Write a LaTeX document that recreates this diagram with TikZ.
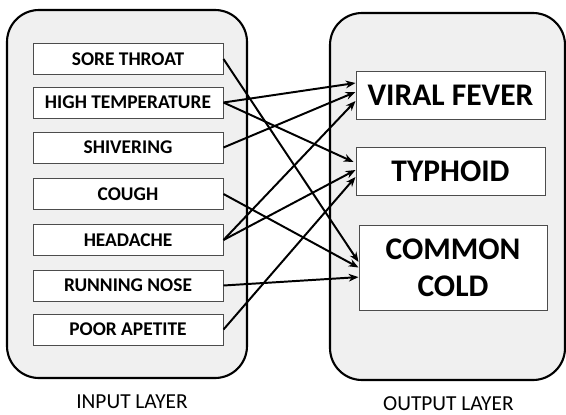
\documentclass[tikz,border=0pt]{standalone}
\usepackage{fontspec}
\setmainfont{Carlito}
\usetikzlibrary{arrows.meta}
\tikzset{
	panel/.style={draw=black, line width=1.5pt, fill=black!6, rounded corners=0.8cm},
	inbox/.style={draw=black!70, line width=0.7pt, fill=white, minimum width=4.75cm, minimum height=0.775cm, inner sep=0pt, font=\fontsize{13.8}{16}\selectfont\bfseries},
	outbox/.style={draw=black!70, line width=0.7pt, fill=white, minimum width=4.725cm, minimum height=1.2cm, inner sep=0pt, align=center, font=\fontsize{22.4}{26.2}\selectfont\bfseries},
	layer/.style={anchor=base, inner sep=0pt, font=\fontsize{15.2}{18}\selectfont},
	link/.style={line width=1.4pt, -{Stealth[length=7pt, width=5.5pt]}}
}

\begin{document}
\begin{tikzpicture}
		%%%%% START %%%%%
		\useasboundingbox (0, 0) rectangle (14.15, 10.35);
		
		\draw[panel] (0.175, 0.9) rectangle (6.175, 10.1);
		\draw[panel] (8.25, 0.85) rectangle (14.125, 10.025);
		
		\node[inbox] (sore) at (3.2, 8.875) {SORE THROAT};
		\node[inbox] (temp) at (3.2, 7.7875) {HIGH TEMPERATURE};
		\node[inbox] (shiver) at (3.2, 6.6625) {SHIVERING};
		\node[inbox] (cough) at (3.2, 5.5) {COUGH};
		\node[inbox] (head) at (3.2, 4.35) {HEADACHE};
		\node[inbox] (nose) at (3.2, 3.2125) {RUNNING NOSE};
		\node[inbox] (appetite) at (3.2, 2.1125) {POOR APETITE};
		
		\node[outbox] (fever) at (11.2625, 7.975) {VIRAL FEVER};
		\node[outbox] (typhoid) at (11.2625, 6.075) {TYPHOID};
		\node[outbox, minimum width=4.7cm, minimum height=2.125cm] (cold) at (11.325, 3.6625) {COMMON\\COLD};
		
		\node[layer] (inlabel) at (3.3, 0.13) {INPUT LAYER};
		\node[layer] (outlabel) at (11.21, 0.09) {OUTPUT LAYER};
		
		% into viral fever
		\draw[link] (temp.east) -- ([yshift=0.3cm]fever.west);
		\draw[link] (shiver.east) -- ([yshift=0.075cm]fever.west);
		\draw[link] (head.east) -- ([yshift=-0.15cm]fever.west);
		
		% into typhoid
		\draw[link] (temp.east) -- ([xshift=-0.05cm, yshift=0.225cm]typhoid.west);
		\draw[link] (head.east) -- ([yshift=0.025cm]typhoid.west);
		\draw[link] (appetite.east) -- ([yshift=-0.15cm]typhoid.west);
		
		% into common cold
		\draw[link] (sore.east) -- ([yshift=0.14cm]cold.west);
		\draw[link] (cough.east) -- (cold.west);
		\draw[link] (nose.east) -- ([yshift=-0.24cm]cold.west);
		%%%%% END %%%%%
	\end{tikzpicture}
\end{document}
